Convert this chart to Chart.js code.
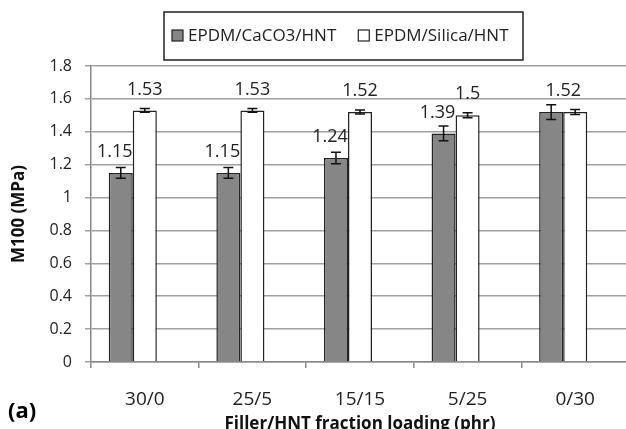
<!DOCTYPE html>
<html><head><meta charset="utf-8">
<script src="https://cdn.jsdelivr.net/npm/chart.js@4.4.1/dist/chart.umd.min.js"></script>
<style>
html,body{margin:0;padding:0;background:#fff;overflow:hidden;width:626px;height:429px}
#wrap{position:absolute;left:0;top:0;width:640px;height:429px}
#tag{position:absolute;left:8px;top:394px;font:bold 22px "Open Sans",sans-serif;color:#000}
</style></head><body>
<div id="wrap"><canvas id="c" width="640" height="429"></canvas></div>
<div id="tag">(a)</div>
<script>
const categories = ['30/0', '25/5', '15/15', '5/25', '0/30'];
const seriesNames = ['EPDM/CaCO3/HNT', 'EPDM/Silica/HNT'];
const caco3Values = [1.15, 1.15, 1.24, 1.39, 1.52];
const silicaValues = [1.53, 1.53, 1.52, 1.50, 1.52];
const caco3Errors = [0.033, 0.033, 0.035, 0.045, 0.045];
const silicaErrors = [0.012, 0.012, 0.012, 0.015, 0.015];
const caco3Labels = ['1.15', '1.15', '1.24', '1.39', null];
const silicaLabels = ['1.53', '1.53', '1.52', '1.5', '1.52'];
const yMin = 0, yMax = 1.8, yStep = 0.2;
const xTitle = 'Filler/HNT fraction loading (phr)';
const yTitle = 'M100 (MPa)';

const FONT = '"Open Sans", sans-serif';
const seriesFill = ['#868686', '#ffffff'];

const errorBars = {
  id: 'errorBars',
  afterDatasetsDraw(chart) {
    const ctx = chart.ctx, ys = chart.scales.y;
    [[0, caco3Values, caco3Errors], [1, silicaValues, silicaErrors]].forEach(([di, vals, errs]) => {
      chart.getDatasetMeta(di).data.forEach((bar, i) => {
        const t = ys.getPixelForValue(vals[i] + errs[i]);
        const b = ys.getPixelForValue(vals[i] - errs[i]);
        ctx.save();
        ctx.strokeStyle = '#111';
        ctx.lineWidth = 1.5;
        ctx.beginPath();
        ctx.moveTo(bar.x, t); ctx.lineTo(bar.x, b);
        ctx.moveTo(bar.x - 5, t); ctx.lineTo(bar.x + 5, t);
        ctx.moveTo(bar.x - 5, b); ctx.lineTo(bar.x + 5, b);
        ctx.stroke();
        ctx.restore();
      });
    });
  }
};

const valueLabels = {
  id: 'valueLabels',
  beforeDatasetsDraw(chart) {
    const ctx = chart.ctx;
    ctx.save();
    ctx.font = '18px ' + FONT;
    ctx.fillStyle = '#222';
    ctx.textAlign = 'center';
    ctx.textBaseline = 'middle';
    [[0, caco3Labels, -6], [1, silicaLabels, 0]].forEach(([di, labs, dx]) => {
      chart.getDatasetMeta(di).data.forEach((bar, i) => {
        if (labs[i] == null) return;
        const shift = (di === 1 && i === labs.length - 1) ? -12 : dx;
        ctx.fillText(labs[i], bar.x + shift, bar.y - 21);
      });
    });
    ctx.restore();
  }
};

const boxLegend = {
  id: 'boxLegend',
  afterDraw(chart) {
    const ctx = chart.ctx;
    ctx.save();
    ctx.fillStyle = '#fff';
    ctx.fillRect(164, 12, 359, 48);
    ctx.strokeStyle = '#222';
    ctx.lineWidth = 1.5;
    ctx.strokeRect(164, 12, 359, 48);
    ctx.font = '17px ' + FONT;
    ctx.textBaseline = 'middle';
    ctx.textAlign = 'left';
    let x = 172;
    seriesNames.forEach((name, i) => {
      ctx.fillStyle = seriesFill[i];
      ctx.fillRect(x, 30, 11, 11);
      ctx.strokeStyle = '#222';
      ctx.lineWidth = 1.2;
      ctx.strokeRect(x, 30, 11, 11);
      ctx.fillStyle = '#222';
      ctx.fillText(name, x + 16, 36);
      x += 16 + ctx.measureText(name).width + 22;
    });
    ctx.restore();
  }
};

new Chart(document.getElementById('c'), {
  type: 'bar',
  data: {
    labels: categories,
    datasets: [
      { label: seriesNames[0], data: caco3Values, backgroundColor: seriesFill[0], borderColor: '#222', borderWidth: 1.5 },
      { label: seriesNames[1], data: silicaValues, backgroundColor: seriesFill[1], borderColor: '#222', borderWidth: 1.5 },
      { label: '', data: categories.map(() => null), backgroundColor: 'rgba(0,0,0,0)', borderWidth: 0 }
    ]
  },
  options: {
    responsive: false,
    animation: false,
    devicePixelRatio: 1,
    categoryPercentage: 0.67,
    barPercentage: 1,
    layout: { padding: { top: 66, right: 11, left: 0, bottom: 0 } },
    plugins: { legend: { display: false }, tooltip: { enabled: false } },
    scales: {
      x: {
        afterFit(s) { s.height = 67; },
        grid: { drawOnChartArea: false, drawTicks: true, tickLength: 6, color: '#888', lineWidth: 1.5 },
        border: { color: '#888', width: 1.5 },
        ticks: { color: '#222', font: { family: FONT, size: 19 }, padding: 20 },
        title: { display: true, text: xTitle, color: '#111', font: { family: FONT, size: 17, weight: 'bold' }, padding: { top: 0, bottom: -5 } }
      },
      y: {
        min: yMin, max: yMax,
        afterFit(s) { s.width = 91; },
        ticks: { stepSize: yStep, color: '#222', font: { family: FONT, size: 16 }, padding: 13,
                 callback: v => String(Math.round(v * 10) / 10) },
        grid: { color: '#a0a0a0', lineWidth: 1.5, tickLength: 6 },
        border: { color: '#888', width: 1.5 },
        title: { display: true, text: yTitle, color: '#111', font: { family: FONT, size: 17, weight: 'bold' }, padding: { top: 9, bottom: 0 } }
      }
    }
  },
  plugins: [errorBars, valueLabels, boxLegend]
});
</script>
</body></html>
